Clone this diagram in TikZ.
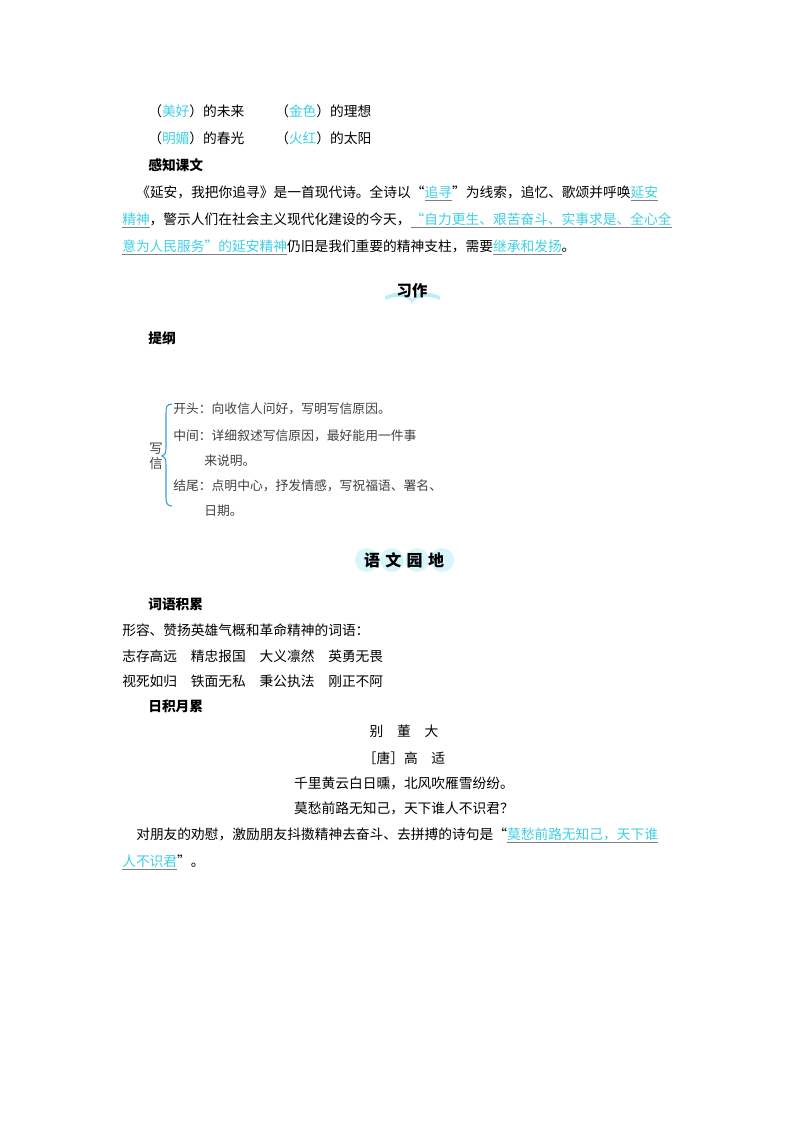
\documentclass[tikz,border=0pt]{standalone}
\usepackage{fontspec}
\setmainfont{Noto Sans CJK SC}
\XeTeXlinebreaklocale "zh"
\XeTeXlinebreakskip=0pt plus 1fil
\definecolor{ans}{HTML}{3FCFE3}
\definecolor{brc}{HTML}{3A9BD8}
\newcommand{\an}[1]{\textcolor{ans}{#1}}
\newcommand{\au}[1]{\textcolor{gray}{\underline{\textcolor{ans}{#1}}}}
\begin{document}
\begin{tikzpicture}[x=0.75pt,y=-0.75pt,
  ln/.style={anchor=base west,inner sep=0pt,font=\fontsize{10.3pt}{13pt}\selectfont},
  hd/.style={anchor=base west,inner sep=0pt,font=\fontsize{10.3pt}{13pt}\selectfont\bfseries},
  ce/.style={anchor=base,inner sep=0pt,font=\fontsize{10.3pt}{13pt}\selectfont},
  lt/.style={anchor=base west,inner sep=0pt,font=\fontsize{9.6pt}{12pt}\selectfont\color{black!75}}]
\useasboundingbox (0,0) rectangle (800,1132);
\node[ln] (a1) at (148,116) {（\an{美好}）的未来};
\node[ln] (a2) at (275,116) {（\an{金色}）的理想};
\node[ln] (a3) at (148,143) {（\an{明媚}）的春光};
\node[ln] (a4) at (275,143) {（\an{火红}）的太阳};
\node[hd] (h1) at (148,170) {感知课文};
\node[ln] (p1) at (136,197) {\hbox to 400.5pt{《延安，我把你追寻》是一首现代诗。全诗以“\au{追寻}”为线索，追忆、歌颂并呼唤\au{延安}}};
\node[ln] (p2) at (122,224) {\hbox to 411pt{\au{精神}，警示人们在社会主义现代化建设的今天，\au{“自力更生、艰苦奋斗、实事求是、全心全}}};
\node[ln] (p3) at (122,251) {\au{意为人民服务”的延安精神}仍旧是我们重要的精神支柱，需要\au{继承和发扬}。};
% 习作 heading
\fill[ans!35] (385,296) .. controls (400,290) and (410,292) .. (412,300) .. controls (414,292) and (425,290) .. (440,296) -- (440,300) .. controls (425,294) and (414,297) .. (412,304) .. controls (410,297) and (400,294) .. (385,300) -- cycle;
\node[anchor=base,inner sep=0pt,font=\fontsize{11.5pt}{13pt}\selectfont\bfseries] (h2) at (412,296) {习作};
\node[hd] (h3) at (148,343) {提纲};
% letter outline
\node[lt] (l1) at (173,413) {开头：向收信人问好，写明写信原因。};
\node[lt] (l2) at (173,440) {中间：详细叙述写信原因，最好能用一件事};
\node[lt] (l3) at (204,465) {来说明。};
\node[lt] (l4) at (173,490) {结尾：点明中心，抒发情感，写祝福语、署名、};
\node[lt] (l5) at (204,515) {日期。};
\node[anchor=center,inner sep=0pt,align=center,font=\fontsize{10pt}{11pt}\selectfont\color{black!75}] (w) at (156,456) {写\\信};
\draw[brc,thick] (172,404) .. controls (166,404) and (166,408) .. (166,414) -- (166,448) .. controls (166,454) and (164,456) .. (162,456) .. controls (164,456) and (166,458) .. (166,464) -- (166,498) .. controls (166,504) and (168,506) .. (172,506);
% 语文园地 heading
\foreach \cx in {367,392,417,442} \fill[ans!20] (\cx,560) circle (12);
\node[anchor=base,inner sep=0pt,font=\fontsize{12pt}{14pt}\selectfont\bfseries] (h4) at (404,566) {语\,\,文\,\,园\,\,地};
\node[hd] (h5) at (148,609) {词语积累};
\node[ln] (b1) at (122,635) {形容、赞扬英雄气概和革命精神的词语：};
\node[ln] (b2) at (122,661) {志存高远\quad 精忠报国\quad 大义凛然\quad 英勇无畏};
\node[ln] (b3) at (122,686) {视死如归\quad 铁面无私\quad 秉公执法\quad 刚正不阿};
\node[hd] (h6) at (148,711) {日积月累};
\node[ce] (c1) at (404,736) {别\quad 董\quad 大};
\node[ce] (c2) at (404,763) {［唐］高\quad 适};
\node[ce] (c3) at (404,788) {千里黄云白日曛，北风吹雁雪纷纷。};
\node[ce] (c4) at (404,813) {莫愁前路无知己，天下谁人不识君？};
\node[ln] (d1) at (136,839) {\hbox to 400.5pt{对朋友的劝慰，激励朋友抖擞精神去奋斗、去拼搏的诗句是“\au{莫愁前路无知己，天下谁}}};
\node[ln] (d2) at (122,866) {\au{人不识君}”。};
\end{tikzpicture}
\end{document}
